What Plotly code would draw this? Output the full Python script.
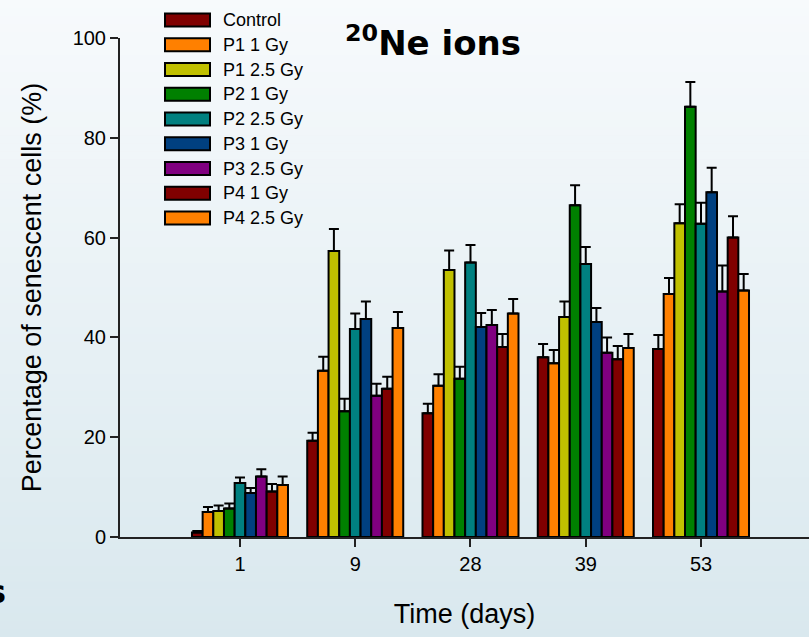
import plotly.graph_objects as go

# ---------------- data ----------------
days = ["1", "9", "28", "39", "53"]
series_names = ["Control", "P1 1 Gy", "P1 2.5 Gy", "P2 1 Gy", "P2 2.5 Gy",
                "P3 1 Gy", "P3 2.5 Gy", "P4 1 Gy", "P4 2.5 Gy"]

control   = [0.9, 19.3, 24.8, 36.0, 37.7]
p1_1gy    = [5.0, 33.3, 30.3, 34.8, 48.7]
p1_25gy   = [5.2, 57.3, 53.5, 44.1, 62.9]
p2_1gy    = [5.7, 25.2, 31.7, 66.5, 86.2]
p2_25gy   = [10.8, 41.7, 55.0, 54.7, 62.8]
p3_1gy    = [8.8, 43.7, 42.1, 43.1, 69.1]
p3_25gy   = [12.1, 28.3, 42.5, 36.9, 49.2]
p4_1gy    = [9.1, 29.7, 38.1, 35.6, 60.0]
p4_25gy   = [10.4, 41.9, 44.8, 37.9, 49.4]

control_err = [0.3, 1.6, 1.9, 2.7, 2.8]
p1_1gy_err  = [1.0, 2.8, 2.3, 2.7, 3.2]
p1_25gy_err = [1.1, 4.4, 3.9, 3.1, 3.8]
p2_1gy_err  = [1.0, 2.5, 2.4, 4.0, 5.0]
p2_25gy_err = [1.1, 3.1, 3.5, 3.4, 4.2]
p3_1gy_err  = [1.0, 3.5, 2.8, 2.8, 4.9]
p3_25gy_err = [1.5, 2.4, 3.0, 3.1, 5.2]
p4_1gy_err  = [1.5, 2.4, 2.6, 2.7, 4.3]
p4_25gy_err = [1.7, 3.2, 2.9, 2.8, 3.3]

y_ticks = [0, 20, 40, 60, 80, 100]

series_values = [control, p1_1gy, p1_25gy, p2_1gy, p2_25gy, p3_1gy, p3_25gy, p4_1gy, p4_25gy]
series_errors = [control_err, p1_1gy_err, p1_25gy_err, p2_1gy_err, p2_25gy_err,
                 p3_1gy_err, p3_25gy_err, p4_1gy_err, p4_25gy_err]

# ---------------- styles ----------------
colors = ["#800000", "#FF8000", "#C0C000", "#008000", "#008080",
          "#004080", "#800080", "#800000", "#FF8000"]

W, H = 809, 637
ML, MR, MT, MB = 120, 0, 38, 100
PW, PH = W - ML - MR, H - MT - MB
FONT = "Liberation Sans, Arial, sans-serif"


def px(xp):
    return (xp - ML) / PW


def py(yp):
    return (H - MB - yp) / PH


fig = go.Figure()
for name, vals, errs, col in zip(series_names, series_values, series_errors, colors):
    fig.add_trace(go.Bar(
        x=days, y=vals, name=name,
        marker=dict(color=col, line=dict(color="#000000", width=2)),
        error_y=dict(type="data", symmetric=False, array=errs,
                     arrayminus=[0] * len(errs), color="#000000",
                     thickness=2, width=5),
        showlegend=False,
    ))

shapes = []
# background vertical gradient
N = 80
top_c = (247, 250, 252)
bot_c = (217, 232, 238)
for i in range(N):
    t = (i + 0.5) / N
    c = tuple(round(top_c[k] + (bot_c[k] - top_c[k]) * t) for k in range(3))
    shapes.append(dict(type="rect", xref="paper", yref="paper",
                       x0=px(0), x1=px(W), y0=py(i * H / N), y1=py((i + 1) * H / N + 0.5),
                       fillcolor="rgb(%d,%d,%d)" % c, line=dict(width=0), layer="below"))

annotations = []
# custom legend
leg_x0, leg_x1, leg_y0, leg_dy, sw_h = 165, 210, 20, 24.75, 13
for i, (name, col) in enumerate(zip(series_names, colors)):
    cy = leg_y0 + i * leg_dy
    shapes.append(dict(type="rect", xref="paper", yref="paper",
                       x0=px(leg_x0), x1=px(leg_x1), y0=py(cy + sw_h / 2), y1=py(cy - sw_h / 2),
                       fillcolor=col, line=dict(color="#000000", width=2), layer="above"))
    annotations.append(dict(xref="paper", yref="paper", x=px(leg_x1 + 11), y=py(cy),
                            xanchor="left", yanchor="middle", showarrow=False, text=name,
                            font=dict(family=FONT, size=18, color="#000000")))

# title
annotations.append(dict(xref="paper", yref="paper", x=px(433), y=py(41),
                        xanchor="center", yanchor="middle", showarrow=False,
                        text="<b><sup>20</sup>Ne ions</b>",
                        font=dict(family="DejaVu Sans, sans-serif", size=34, color="#000000")))
# fragment of neighbouring panel text
annotations.append(dict(xref="paper", yref="paper", x=px(8), y=py(592),
                        xanchor="right", yanchor="middle", showarrow=False,
                        text="<b>s</b>",
                        font=dict(family="DejaVu Sans, sans-serif", size=32, color="#000000")))

fig.update_layout(
    width=W, height=H,
    margin=dict(l=ML, r=MR, t=MT, b=MB, pad=0),
    paper_bgcolor="rgb(232,240,244)",
    plot_bgcolor="rgba(0,0,0,0)",
    barmode="group", bargap=0.167, bargroupgap=0,
    shapes=shapes, annotations=annotations,
    showlegend=False,
    font=dict(family=FONT, color="#000000"),
)
fig.update_xaxes(
    type="category", range=[-1.041, 4.937],
    showline=True, linecolor="#222222", linewidth=2,
    ticks="outside", ticklen=8, tickwidth=1.5, tickcolor="#222222",
    showgrid=False, zeroline=False,
    tickfont=dict(family=FONT, size=20, color="#000000"),
    title=dict(text="Time (days)", font=dict(family=FONT, size=27, color="#000000"), standoff=30),
)
fig.update_yaxes(
    range=[0, 100], tickvals=y_ticks,
    showline=True, linecolor="#222222", linewidth=2,
    ticks="outside", ticklen=8, tickwidth=1.5, tickcolor="#222222",
    showgrid=False, zeroline=False,
    tickfont=dict(family=FONT, size=20, color="#000000"),
    title=dict(text="Percentage of senescent cells (%)",
               font=dict(family=FONT, size=27, color="#000000"), standoff=23),
)

fig.write_html("out.html", config={"displayModeBar": False},
               post_script="document.body.style.margin='0px';document.body.style.overflow='hidden';")
